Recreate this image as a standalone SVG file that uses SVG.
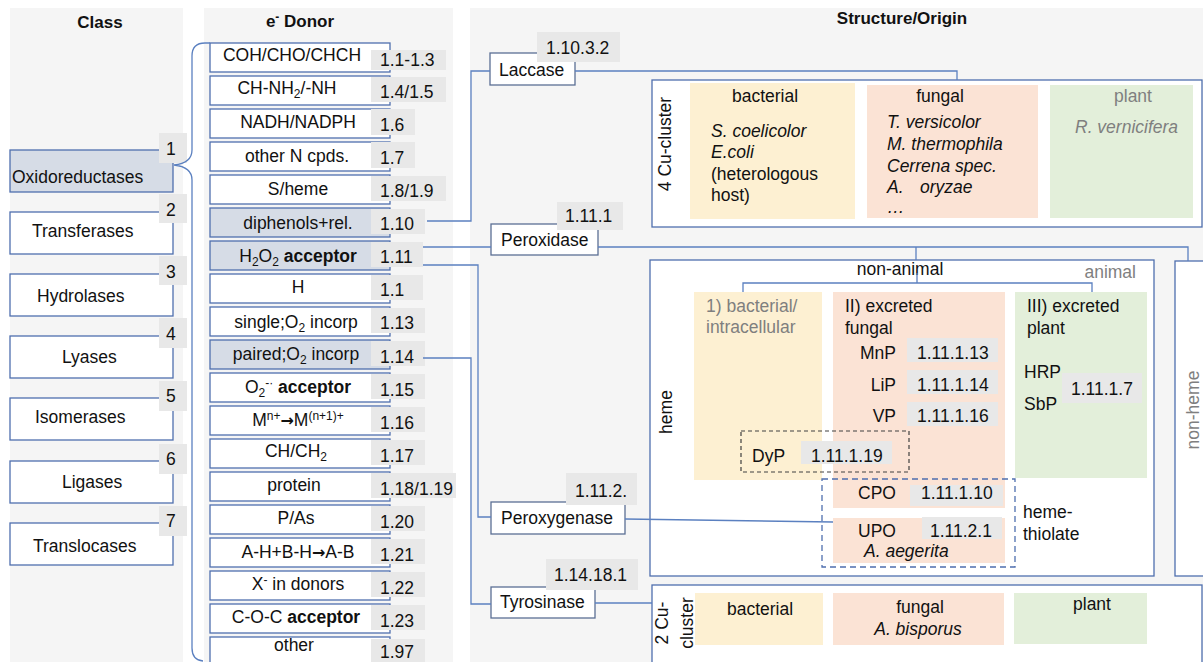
<svg xmlns="http://www.w3.org/2000/svg" width="1203" height="662" viewBox="0 0 1203 662">
<style>
text{font-family:"Liberation Sans",Arial,sans-serif;font-size:17.5px;fill:#111}
.h{font-weight:bold;font-size:17px}
.bd{font-weight:bold}
.it{font-style:italic}
.gt{fill:#7f7f7f}
.sm{font-size:12px}
.ar{font-family:"DejaVu Sans",sans-serif;font-size:16px;font-weight:bold}
.mid{text-anchor:middle}
.end{text-anchor:end}
.panel{fill:#f5f5f5}
.num{fill:#e8e8e8}
.box{fill:#fff;stroke:#4f6fae;stroke-width:1.3}
.hl{fill:#d6dce6;stroke:#4f6fae;stroke-width:1.3}
.ebox{fill:#fff;stroke:#5b6f94;stroke-width:1.3}
.conn{fill:none;stroke:#5b80c0;stroke-width:1.3}
.yel{fill:#fdf0d2}
.ora{fill:#fbe3d5}
.grn{fill:#e3efda}
.dash1{fill:none;stroke:#404040;stroke-width:1.2;stroke-dasharray:4 3}
.dash2{fill:none;stroke:#4f6fae;stroke-width:1.3;stroke-dasharray:6 4}
</style>
<rect width="1203" height="662" fill="#fff"/>
<g id="panels">
<rect class="panel" x="10" y="8" width="173" height="654"/>
<rect class="panel" x="204" y="8" width="249" height="654"/>
<rect class="panel" x="470" y="8" width="733" height="654"/>
</g>
<g id="headers">
<text class="h mid" x="100" y="28">Class</text>
<text class="h mid" x="300" y="27">e<tspan class="sm" dy="-6">-</tspan><tspan dy="6"> Donor</tspan></text>
<text class="h mid" x="902" y="24">Structure/Origin</text>
</g>
<g id="class-oxidoreductases"><rect class="hl" x="10" y="150" width="163" height="42"/><rect class="num" x="159" y="133" width="28" height="30"/><text x="166" y="155">1</text><text x="12" y="183">Oxidoreductases</text></g>
<g id="class-transferases"><rect class="box" x="10" y="212" width="163" height="42"/><rect class="num" x="159" y="194" width="28" height="29"/><text x="166" y="216">2</text><text x="32" y="237">Transferases</text></g>
<g id="class-hydrolases"><rect class="box" x="10" y="274" width="163" height="42"/><rect class="num" x="159" y="256" width="28" height="29"/><text x="166" y="278">3</text><text x="37" y="302">Hydrolases</text></g>
<g id="class-lyases"><rect class="box" x="10" y="336" width="163" height="42"/><rect class="num" x="159" y="318" width="28" height="30"/><text x="166" y="340">4</text><text x="62" y="363">Lyases</text></g>
<g id="class-isomerases"><rect class="box" x="10" y="398" width="163" height="42"/><rect class="num" x="159" y="381" width="28" height="30"/><text x="166" y="402">5</text><text x="35" y="423">Isomerases</text></g>
<g id="class-ligases"><rect class="box" x="10" y="461" width="163" height="42"/><rect class="num" x="159" y="444" width="28" height="30"/><text x="166" y="465">6</text><text x="62" y="488">Ligases</text></g>
<g id="class-translocases"><rect class="box" x="10" y="523" width="163" height="42"/><rect class="num" x="159" y="506" width="28" height="30"/><text x="166" y="527">7</text><text x="33" y="552">Translocases</text></g>

<g id="donor-1-1"><rect class="box" x="210" y="43" width="180" height="29"/><rect class="num" x="371" y="50" width="75" height="20"/><text class="mid" x="292" y="61">COH/CHO/CHCH</text><text x="380" y="66">1.1-1.3</text></g>
<g id="donor-1-4"><rect class="box" x="210" y="76" width="180" height="29"/><rect class="num" x="371" y="77" width="75" height="25"/><text class="mid" x="287" y="94">CH-NH<tspan class="sm" dy="4">2</tspan><tspan dy="-4">/-NH</tspan></text><text x="380" y="98">1.4/1.5</text></g>
<g id="donor-1-6"><rect class="box" x="210" y="109" width="180" height="29"/><rect class="num" x="371" y="109" width="44" height="26"/><text class="mid" x="298" y="128">NADH/NADPH</text><text x="380" y="131">1.6</text></g>
<g id="donor-1-7"><rect class="box" x="210" y="142" width="180" height="29"/><rect class="num" x="371" y="142" width="44" height="26"/><text class="mid" x="297" y="162">other N cpds.</text><text x="380" y="164">1.7</text></g>
<g id="donor-1-8"><rect class="box" x="210" y="175" width="180" height="29"/><rect class="num" x="371" y="176" width="75" height="25"/><text class="mid" x="298" y="195">S/heme</text><text x="380" y="197">1.8/1.9</text></g>
<g id="donor-1-10"><rect class="hl" x="210" y="208" width="180" height="29"/><rect class="num" x="371" y="209" width="54" height="25"/><text class="mid" x="298" y="229">diphenols+rel.</text><text x="380" y="230">1.10</text></g>
<g id="donor-1-11"><rect class="hl" x="210" y="241" width="180" height="29"/><rect class="num" x="371" y="242" width="52" height="25"/><text class="mid" x="298" y="262">H<tspan class="sm" dy="4">2</tspan><tspan dy="-4">O</tspan><tspan class="sm" dy="4">2</tspan><tspan dy="-4" class="bd"> acceptor</tspan></text><text x="380" y="263">1.11</text></g>
<g id="donor-1-12"><rect class="box" x="210" y="274" width="180" height="29"/><rect class="num" x="371" y="275" width="52" height="25"/><text class="mid" x="298" y="293">H</text><text x="380" y="296">1.1</text></g>
<g id="donor-1-13"><rect class="box" x="210" y="307" width="180" height="29"/><rect class="num" x="371" y="308" width="54" height="25"/><text class="mid" x="296" y="328">single;O<tspan class="sm" dy="4">2</tspan><tspan dy="-4"> incorp</tspan></text><text x="380" y="329">1.13</text></g>
<g id="donor-1-14"><rect class="hl" x="210" y="340" width="180" height="29"/><rect class="num" x="371" y="341" width="54" height="25"/><text class="mid" x="296" y="360">paired;O<tspan class="sm" dy="4">2</tspan><tspan dy="-4"> incorp</tspan></text><text x="380" y="363">1.14</text></g>
<g id="donor-1-15"><rect class="box" x="210" y="373" width="180" height="29"/><rect class="num" x="371" y="374" width="54" height="25"/><text class="mid" x="298" y="393">O<tspan class="sm" dy="4">2</tspan><tspan class="sm" dy="-10">-·</tspan><tspan dy="6" class="bd"> acceptor</tspan></text><text x="380" y="396">1.15</text></g>
<g id="donor-1-16"><rect class="box" x="210" y="406" width="180" height="29"/><rect class="num" x="371" y="407" width="54" height="25"/><text class="mid" x="298" y="426">M<tspan class="sm" dy="-6">n+</tspan><tspan class="ar" dy="6">→</tspan><tspan>M</tspan><tspan class="sm" dy="-6">(n+1)+</tspan></text><text x="380" y="429">1.16</text></g>
<g id="donor-1-17"><rect class="box" x="210" y="439" width="180" height="29"/><rect class="num" x="371" y="440" width="54" height="25"/><text class="mid" x="296" y="457">CH/CH<tspan class="sm" dy="4">2</tspan></text><text x="380" y="462">1.17</text></g>
<g id="donor-1-18"><rect class="box" x="210" y="472" width="180" height="29"/><rect class="num" x="371" y="473" width="85" height="25"/><text class="mid" x="294" y="491">protein</text><text x="380" y="495">1.18/1.19</text></g>
<g id="donor-1-20"><rect class="box" x="210" y="505" width="180" height="29"/><rect class="num" x="371" y="506" width="54" height="25"/><text class="mid" x="296" y="524">P/As</text><text x="380" y="528">1.20</text></g>
<g id="donor-1-21"><rect class="box" x="210" y="538" width="180" height="29"/><rect class="num" x="371" y="539" width="54" height="25"/><text class="mid" x="298" y="558">A-H+B-H<tspan class="ar">→</tspan><tspan>A-B</tspan></text><text x="380" y="561">1.21</text></g>
<g id="donor-1-22"><rect class="box" x="210" y="571" width="180" height="29"/><rect class="num" x="371" y="572" width="54" height="25"/><text class="mid" x="298" y="590">X<tspan class="sm" dy="-6">-</tspan><tspan dy="6"> in donors</tspan></text><text x="380" y="594">1.22</text></g>
<g id="donor-1-23"><rect class="box" x="210" y="604" width="180" height="29"/><rect class="num" x="371" y="605" width="54" height="25"/><text class="mid" x="296" y="623">C-O-C <tspan class="bd">acceptor</tspan></text><text x="380" y="627">1.23</text></g>
<g id="donor-1-97"><rect class="box" x="210" y="637" width="180" height="29"/><rect class="num" x="371" y="639" width="54" height="25"/><text class="mid" x="294" y="651">other</text><text x="380" y="658">1.97</text></g>

<g id="enz-laccase"><rect class="ebox" x="490" y="53" width="85" height="32"/><rect class="num" x="537" y="32" width="83" height="30"/><text x="546" y="54">1.10.3.2</text><text x="499" y="76">Laccase</text></g>
<g id="enz-peroxidase"><rect class="ebox" x="491" y="224" width="107" height="31"/><rect class="num" x="557" y="202" width="66" height="28"/><text x="565" y="222">1.11.1</text><text x="501" y="246">Peroxidase</text></g>
<g id="enz-peroxygenase"><rect class="ebox" x="491" y="502" width="134" height="32"/><rect class="num" x="566" y="473" width="71" height="32"/><text x="575" y="497">1.11.2.</text><text x="501" y="524">Peroxygenase</text></g>
<g id="enz-tyrosinase"><rect class="ebox" x="491" y="587" width="104" height="31"/><rect class="num" x="546" y="559" width="92" height="31"/><text x="554" y="581">1.14.18.1</text><text x="500" y="608">Tyrosinase</text></g>

<g id="cu4-cluster">
<rect class="box" x="652" y="80" width="550" height="147"/>
<text class="mid" transform="translate(671,144) rotate(-90)">4 Cu-cluster</text>
<rect class="yel" x="690" y="83" width="165" height="136"/>
<text class="mid" x="765" y="102">bacterial</text>
<text class="it" x="711" y="137">S. coelicolor</text>
<text class="it" x="711" y="158">E.coli</text>
<text x="711" y="180">(heterologous</text>
<text x="711" y="201">host)</text>
<rect class="ora" x="867" y="85" width="171" height="133"/>
<text class="mid" x="940" y="102">fungal</text>
<text class="it" x="887" y="128">T. versicolor</text>
<text class="it" x="887" y="150">M. thermophila</text>
<text class="it" x="887" y="172">Cerrena spec.</text>
<text class="it" x="887" y="193">A.<tspan x="920">oryzae</tspan></text>
<text class="it" x="887" y="213">…</text>
<rect class="grn" x="1050" y="85" width="143" height="133"/>
<text class="mid gt" x="1133" y="102">plant</text>
<text class="it gt" x="1075" y="133">R. vernicifera</text>
</g>

<g id="heme">
<rect class="box" x="650" y="260" width="504" height="316"/>
<text class="mid" transform="translate(672,412) rotate(-90)">heme</text>
<text class="mid" x="900" y="275">non-animal</text>
<text class="end gt" x="1136" y="278">animal</text>
<rect class="yel" x="694" y="292" width="128" height="188"/>
<text class="gt" x="706" y="312">1) bacterial/</text>
<text class="gt" x="706" y="333">intracellular</text>
<rect class="ora" x="833" y="292" width="172" height="216"/>
<text x="845" y="312">II) excreted</text>
<text x="845" y="334">fungal</text>
<text class="end" x="896" y="359">MnP</text>
<rect class="num" x="907" y="338" width="91" height="24"/>
<text x="917" y="359">1.11.1.13</text>
<text class="end" x="896" y="391">LiP</text>
<rect class="num" x="907" y="370" width="91" height="24"/>
<text x="917" y="391">1.11.1.14</text>
<text class="end" x="896" y="422">VP</text>
<rect class="num" x="907" y="402" width="91" height="24"/>
<text x="917" y="422">1.11.1.16</text>
<rect class="grn" x="1015" y="292" width="132" height="186"/>
<text x="1027" y="312">III) excreted</text>
<text x="1027" y="334">plant</text>
<text x="1024" y="378">HRP</text>
<text x="1024" y="410">SbP</text>
<rect class="num" x="1062" y="373" width="80" height="30"/>
<text x="1071" y="395">1.11.1.7</text>
<rect class="dash1" x="741" y="431" width="168" height="41"/>
<text x="752" y="462">DyP</text>
<rect class="num" x="801" y="441" width="91" height="23"/>
<text x="811" y="462">1.11.1.19</text>
<text x="858" y="499">CPO</text>
<rect class="num" x="910" y="485" width="93" height="21"/>
<text x="921" y="499">1.11.1.10</text>
<rect class="ora" x="833" y="518" width="172" height="45"/>
<text x="858" y="537">UPO</text>
<rect class="num" x="922" y="517" width="80" height="22"/>
<text x="930" y="537">1.11.2.1</text>
<text class="it" x="864" y="557">A. aegerita</text>
<rect class="dash2" x="822" y="479" width="193" height="88"/>
<text x="1023" y="518">heme-</text>
<text x="1023" y="540">thiolate</text>
</g>

<g id="non-heme">
<rect class="box" x="1175" y="261" width="30" height="315"/>
<text class="mid gt" transform="translate(1199,410) rotate(-90)">non-heme</text>
</g>

<g id="cu2-cluster">
<rect class="box" x="652" y="585" width="550" height="90"/>
<text class="mid" transform="translate(668,623) rotate(-90)">2 Cu-</text>
<text class="mid" transform="translate(693,623) rotate(-90)">cluster</text>
<rect class="yel" x="695" y="593" width="128" height="52"/>
<text class="mid" x="760" y="615">bacterial</text>
<rect class="ora" x="833" y="593" width="171" height="52"/>
<text class="mid" x="920" y="613">fungal</text>
<text class="it mid" x="918" y="635">A. bisporus</text>
<rect class="grn" x="1014" y="593" width="133" height="51"/>
<text class="mid" x="1092" y="610">plant</text>
</g>

<g id="connectors">
<path class="conn" d="M210 43 H205 Q192 43 192 56 V150 Q192 163 174 165 Q192 167 192 180 V648 Q192 660 203 661"/>
<path class="conn" d="M427 221 H471 V71 H490"/>
<path class="conn" d="M575 71 H957 V80"/>
<path class="conn" d="M423 247 H491"/>
<path class="conn" d="M598 247 H1188 V261"/>
<path class="conn" d="M916 247 V260"/>
<path class="conn" d="M423 265 H478 V517 H491"/>
<path class="conn" d="M423 358 H471 V604 H491"/>
<path class="conn" d="M625 519 L833 522"/>
<path class="conn" d="M595 603 H652"/>
<path class="conn" d="M917 273 V283 M743 292 V283 H1092 V292"/>
</g>
</svg>
